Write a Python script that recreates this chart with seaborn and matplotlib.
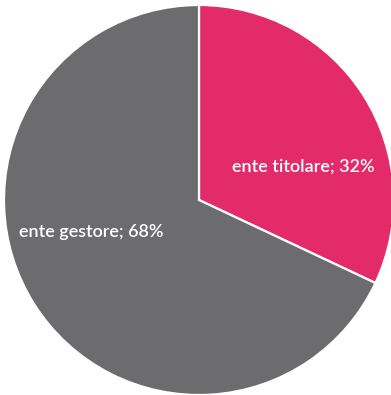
import matplotlib
matplotlib.use("Agg")
import matplotlib.pyplot as plt
import seaborn as sns

labels = ["ente titolare", "ente gestore"]
shares = [32, 68]
colors = ["#E22B68", "#6C6C6F"]

sns.set_style("white")
plt.rcParams["font.family"] = ["Lato", "DejaVu Sans"]

fig = plt.figure(figsize=(3.91, 3.95), dpi=100)
ax = fig.add_axes([4 / 391, 0 / 395, 390 / 391, 390 / 395])
wedges, _ = ax.pie(
    shares,
    colors=colors,
    startangle=90,
    counterclock=False,
    radius=1.0,
    wedgeprops=dict(edgecolor="white", linewidth=1.6),
)
ax.set_xlim(-1, 1)
ax.set_ylim(-1, 1)
ax.set_aspect("equal")
ax.axis("off")

# slice labels
label_pos = [(0.535, 0.17), (-0.55, -0.165)]
for name, val, (x, y) in zip(labels, shares, label_pos):
    ax.text(x, y, f"{name}; {val}%", color="white", fontsize=13,
            fontweight="semibold", ha="center", va="center")

fig.savefig("out.png", dpi=100)
